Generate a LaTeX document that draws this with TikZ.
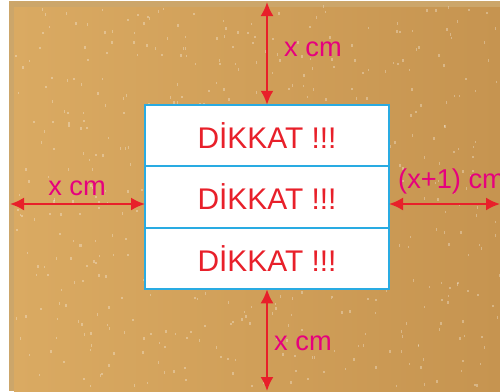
\documentclass[tikz,border=0pt]{standalone}
\usepackage{fontspec}
\setmainfont{Liberation Sans}
\usetikzlibrary{arrows.meta, positioning, calc}
\definecolor{corktan}{RGB}{218,170,98}
\definecolor{corkdark}{RGB}{198,148,80}
\definecolor{frametan}{RGB}{204,166,106}
\definecolor{signblue}{RGB}{41,171,226}
\definecolor{signred}{RGB}{232,32,42}
\definecolor{labelpink}{RGB}{230,0,126}

\begin{document}
\begin{tikzpicture}[
        sign/.style={rectangle, draw=signblue, fill=white, line width=1.2pt,
                     outer sep=0pt, minimum width=4.88cm, minimum height=1.23cm,
                     font=\fontsize{17}{19}\selectfont, text=signred},
        measure/.style={{Latex[length=2.8mm,width=2.6mm]}-{Latex[length=2.8mm,width=2.6mm]},
                        signred, line width=1.2pt},
        dimlabel/.style={font=\fontsize{15.5}{17}\selectfont, text=labelpink}
      ]
        \useasboundingbox (0,0) rectangle (10,-7.82);
        % Cork board
        \fill[white] (0,0) rectangle (10,-7.82);
        \fill[frametan] (0.18,-0.02) rectangle (10,-7.82);
        \shade[left color=corktan, right color=corkdark] (0.28,-0.14) rectangle (10,-7.82);
        \pgfmathsetseed{7}
        \foreach \i in {1,...,550}
          \fill[white, opacity=0.3] ({rnd*9.7+0.3},{-rnd*7.6-0.15}) rectangle ++(0.03,0.05);
        % Signs
        \node[sign] (sign1) at (5.34,-2.71) {DİKKAT !!!};
        \node[sign, below=0pt of sign1] (sign2) {DİKKAT !!!};
        \node[sign, below=0pt of sign2] (sign3) {DİKKAT !!!};
        % Free ends
        \coordinate (topend) at (5.34,-0.04);
        \coordinate (botend) at (5.34,-7.82);
        \coordinate (leftend) at (0.2,-4.08);
        \coordinate (rightend) at (10,-4.08);
        % Measures
        \draw[measure] (topend) -- (sign1.north);
        \draw[measure] (sign3.south) -- (botend);
        \draw[measure] (leftend) -- (leftend -| sign2.west);
        \draw[measure] (rightend -| sign2.east) -- (rightend);
        % Labels
        \node[dimlabel, anchor=west] (toplabel) at (5.56,-0.98) {x cm};
        \node[dimlabel] (leftlabel) at (1.54,-3.76) {x cm};
        \node[dimlabel, anchor=west] (rightlabel) at (7.84,-3.62) {(x+1) cm};
        \node[dimlabel, anchor=west] (botlabel) at (5.36,-6.86) {x cm};
      \end{tikzpicture}
\end{document}
